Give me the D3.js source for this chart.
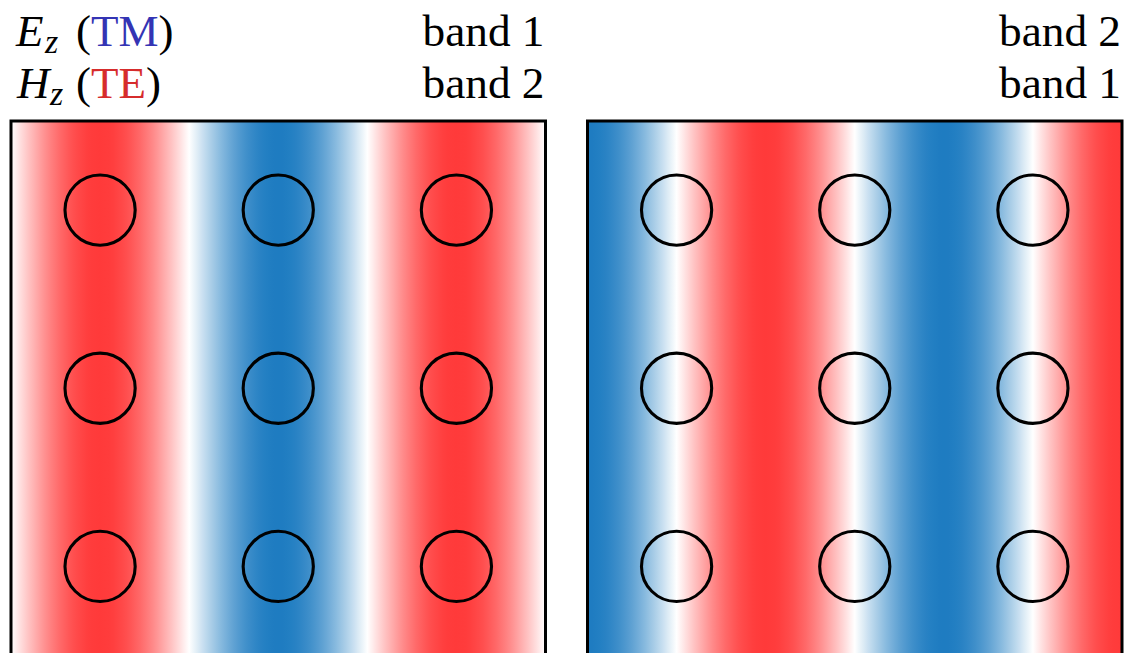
<!DOCTYPE html>
<html>
<head>
<meta charset="utf-8">
<script src="https://cdn.jsdelivr.net/npm/d3@7"></script>
<style>
  html, body { margin: 0; padding: 0; background: #fff; }
  svg { display: block; }
  text { font-family: "Liberation Serif", "Times New Roman", serif; }
</style>
</head>
<body>
<svg id="chart" width="1142" height="653"></svg>
<script>
// Photonic-crystal mode profiles at the X point: square lattice of rods,
// 3 x 3 cells per panel, field varies along x only.
const panelNames   = ["left", "right"];
const bandTop      = ["band 1", "band 2"];     // Ez (TM) band per panel
const bandBottom   = ["band 2", "band 1"];     // Hz (TE) band per panel
const blochK       = [0.5, 0.5];               // wavevector along x, units of 2π/a
const phaseAtEdge  = [-0.5, 1.0];              // field phase at the panel's left edge, units of π
const cellsX       = [0, 1, 2];                // lattice cell indices
const cellsY       = [0, 1, 2];
const rodRadius    = 0.197;                    // rod radius, units of a
const cellsPerSide = 3;

// colour map: negative -> blue, zero -> white, positive -> red
const fieldColor = d3.scaleLinear()
  .domain([-1, 0, 1])
  .range(["rgb(30,124,193)", "#ffffff", "rgb(255,58,58)"])
  .interpolate(d3.interpolateRgb);

const svg = d3.select("#chart");
const defs = svg.append("defs");

const panelLeft = [11, 587.5];
const panelSize = 534.5;
const panelTop  = 121;

panelNames.forEach((name, i) => {
  const x = d3.scaleLinear().domain([0, cellsPerSide]).range([panelLeft[i], panelLeft[i] + panelSize]);
  const y = d3.scaleLinear().domain([0, cellsPerSide]).range([panelTop, panelTop + panelSize]);

  // field profile sampled across the panel as gradient stops
  const samples = d3.range(0, 121).map(j => j / 120);
  const grad = defs.append("linearGradient")
    .attr("id", "field-" + name)
    .attr("x1", "0%").attr("x2", "100%").attr("y1", "0%").attr("y2", "0%");
  grad.selectAll("stop")
    .data(samples)
    .join("stop")
    .attr("offset", t => (t * 100) + "%")
    .attr("stop-color", t => {
      const u = t * cellsPerSide;                          // position in lattice units
      const v = Math.cos(2 * Math.PI * blochK[i] * u + Math.PI * phaseAtEdge[i]);
      return fieldColor(v);
    });

  const g = svg.append("g").attr("class", "panel-" + name);

  g.append("rect")
    .attr("x", x(0)).attr("y", y(0))
    .attr("width", x(cellsPerSide) - x(0))
    .attr("height", y(cellsPerSide) - y(0))
    .attr("fill", `url(#field-${name})`);

  const rods = cellsY.flatMap(r => cellsX.map(c => ({ c, r })));
  g.selectAll("circle.rod")
    .data(rods)
    .join("circle")
    .attr("class", "rod")
    .attr("cx", d => x(d.c + 0.5))
    .attr("cy", d => y(d.r + 0.5))
    .attr("r", x(rodRadius) - x(0))
    .attr("fill", "none")
    .attr("stroke", "#000")
    .attr("stroke-width", 3.1);

  g.append("rect")
    .attr("x", x(0)).attr("y", y(0))
    .attr("width", x(cellsPerSide) - x(0))
    .attr("height", y(cellsPerSide) - y(0))
    .attr("fill", "none")
    .attr("stroke", "#000")
    .attr("stroke-width", 3);

  // band labels, right-aligned to the panel edge
  [bandTop[i], bandBottom[i]].forEach((label, k) => {
    g.append("text")
      .attr("x", x(cellsPerSide) - 1).attr("y", k === 0 ? 46 : 98)
      .attr("text-anchor", "end")
      .attr("font-size", 45)
      .attr("textLength", 122)
      .attr("lengthAdjust", "spacingAndGlyphs")
      .text(label);
  });
});

// polarisation labels
const polRows = [
  { sym: "E", sub: "z", tag: "TM", color: "rgb(52,52,180)", base: 46, x: 16, subX: 45 },
  { sym: "H", sub: "z", tag: "TE", color: "rgb(214,44,44)", base: 98, x: 17, subX: 50 }
];
polRows.forEach(r => {
  svg.append("text")
    .attr("x", r.x).attr("y", r.base)
    .attr("font-size", 45).attr("font-style", "italic")
    .text(r.sym);
  svg.append("text")
    .attr("x", r.subX).attr("y", r.base + 7)
    .attr("font-size", 34).attr("font-style", "italic")
    .text(r.sub);
  const t = svg.append("text")
    .attr("x", 76).attr("y", r.base)
    .attr("font-size", 45);
  t.append("tspan").text("(");
  t.append("tspan").attr("fill", r.color).text(r.tag);
  t.append("tspan").text(")");
});
</script>
</body>
</html>
